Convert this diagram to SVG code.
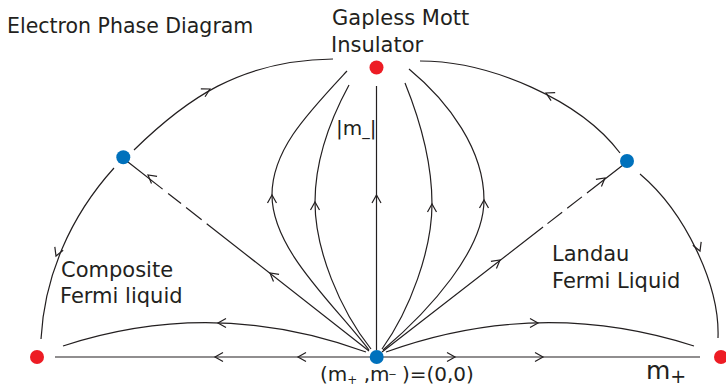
<svg xmlns="http://www.w3.org/2000/svg" xmlns:xlink="http://www.w3.org/1999/xlink" width="726" height="388" viewBox="0 0 726 388">
<style>
  .ln { fill: none; stroke: #231F20; stroke-width: 1.2; }
  .txt { font-family: "DejaVu Sans", "Liberation Sans", sans-serif; fill: #231F20; }
  .red { fill: #ED1C24; }
  .blue { fill: #0071BC; }
</style>
<defs>
  <path id="chev" d="M-8,-4.5 L0,0 L-8,4.5" fill="none" stroke="#231F20" stroke-width="1.2"/>
</defs>
<rect width="726" height="388" fill="#ffffff"/>

<g id="connectors">
  <!-- horizontal axis -->
  <path class="ln" d="M55,357 L700,357"/>
  <!-- lower arcs -->
  <path class="ln" d="M63,346 Q214,296.5 366,352"/>
  <path class="ln" d="M386,352 Q540,296.5 694,346"/>
  <!-- outer arcs -->
  <path class="ln" d="M114,168 A337,297 0 0 0 41,339"/>
  <path class="ln" d="M134,150 C185,100 240,60 333,59"/>
  <path class="ln" d="M420,61 C490,61 580,100 620,153"/>
  <path class="ln" d="M640,174 C685,212 720,285 718,338"/>
  <!-- dashed diagonals -->
  <path class="ln" d="M128,162 L369,351" stroke-dasharray="44 7 16.4 6.4 19.8 6.4 400"/>
  <path class="ln" d="M623,165 L382,352" stroke-dasharray="45.6 6.4 18.6 6.4 18.6 5.6 400"/>
  <!-- vertical line -->
  <path class="ln" d="M376.5,86 L376.5,350"/>
  <!-- inner fan curves -->
  <path class="ln" d="M347,71 C307,114 272,150 272,195 C272,250 335,305 369,350"/>
  <path class="ln" d="M349,85 C330,120 315,160 315,202 C315,250 340,310 371,349"/>
  <path class="ln" d="M405,83 C420,120 432,160 432,204 C432,250 410,310 382,349"/>
  <path class="ln" d="M409,69 C449,102 484,150 484,200 C484,250 430,310 383,350"/>
  <!-- arrowheads -->
  <use xlink:href="#chev" transform="translate(215,357) rotate(180)"/>
  <use xlink:href="#chev" transform="translate(298,357) rotate(180)"/>
  <use xlink:href="#chev" transform="translate(455,357)"/>
  <use xlink:href="#chev" transform="translate(543,357)"/>
  <use xlink:href="#chev" transform="translate(218,323) rotate(180)"/>
  <use xlink:href="#chev" transform="translate(538,323)"/>
  <use xlink:href="#chev" transform="translate(56,256) rotate(112)"/>
  <use xlink:href="#chev" transform="translate(210,89) rotate(-28)"/>
  <use xlink:href="#chev" transform="translate(546,93) rotate(207)"/>
  <use xlink:href="#chev" transform="translate(700,251) rotate(68)"/>
  <use xlink:href="#chev" transform="translate(148,175) rotate(218.3)"/>
  <use xlink:href="#chev" transform="translate(270,273) rotate(218.3)"/>
  <use xlink:href="#chev" transform="translate(605,178) rotate(-37.8)"/>
  <use xlink:href="#chev" transform="translate(500,260) rotate(-37.8)"/>
  <use xlink:href="#chev" transform="translate(376.5,195) rotate(-90)"/>
  <use xlink:href="#chev" transform="translate(272,195) rotate(-90)"/>
  <use xlink:href="#chev" transform="translate(315,202) rotate(-90)"/>
  <use xlink:href="#chev" transform="translate(432,204) rotate(-90)"/>
  <use xlink:href="#chev" transform="translate(484,200) rotate(-90)"/>
</g>

<g id="title">
  <text class="txt" x="7" y="33" font-size="20.5">Electron Phase Diagram</text>
</g>

<g id="node-mott">
  <circle class="red" cx="376.5" cy="67.5" r="7"/>
  <text class="txt" font-size="21"><tspan x="332" y="25">Gapless Mott</tspan><tspan x="331" y="52">Insulator</tspan></text>
</g>

<g id="node-cfl-fixed">
  <circle class="red" cx="37" cy="357" r="7"/>
</g>

<g id="node-lfl-fixed">
  <circle class="red" cx="721" cy="357" r="7"/>
</g>

<g id="node-left-critical">
  <circle class="blue" cx="123.3" cy="157.3" r="7"/>
</g>

<g id="node-right-critical">
  <circle class="blue" cx="627" cy="161" r="7"/>
</g>

<g id="node-origin">
  <circle class="blue" cx="376.7" cy="357" r="7"/>
  <text class="txt" x="320" y="381" font-size="20">(m<tspan font-size="12" dy="3">+</tspan><tspan dy="-3"> ,m</tspan><tspan font-size="12" dy="-9">_</tspan><tspan dy="9"> )=(0,0)</tspan></text>
</g>

<g id="labels">
  <text class="txt" x="336" y="135" font-size="20">|m<tspan font-size="15">_</tspan>|</text>
  <text class="txt" font-size="21"><tspan x="61" y="277">Composite</tspan><tspan x="60" y="303">Fermi liquid</tspan></text>
  <text class="txt" font-size="21"><tspan x="552" y="261">Landau</tspan><tspan x="552" y="288">Fermi Liquid</tspan></text>
  <text class="txt" x="646" y="379" font-size="25">m<tspan font-size="19" dy="4">+</tspan></text>
</g>
</svg>
